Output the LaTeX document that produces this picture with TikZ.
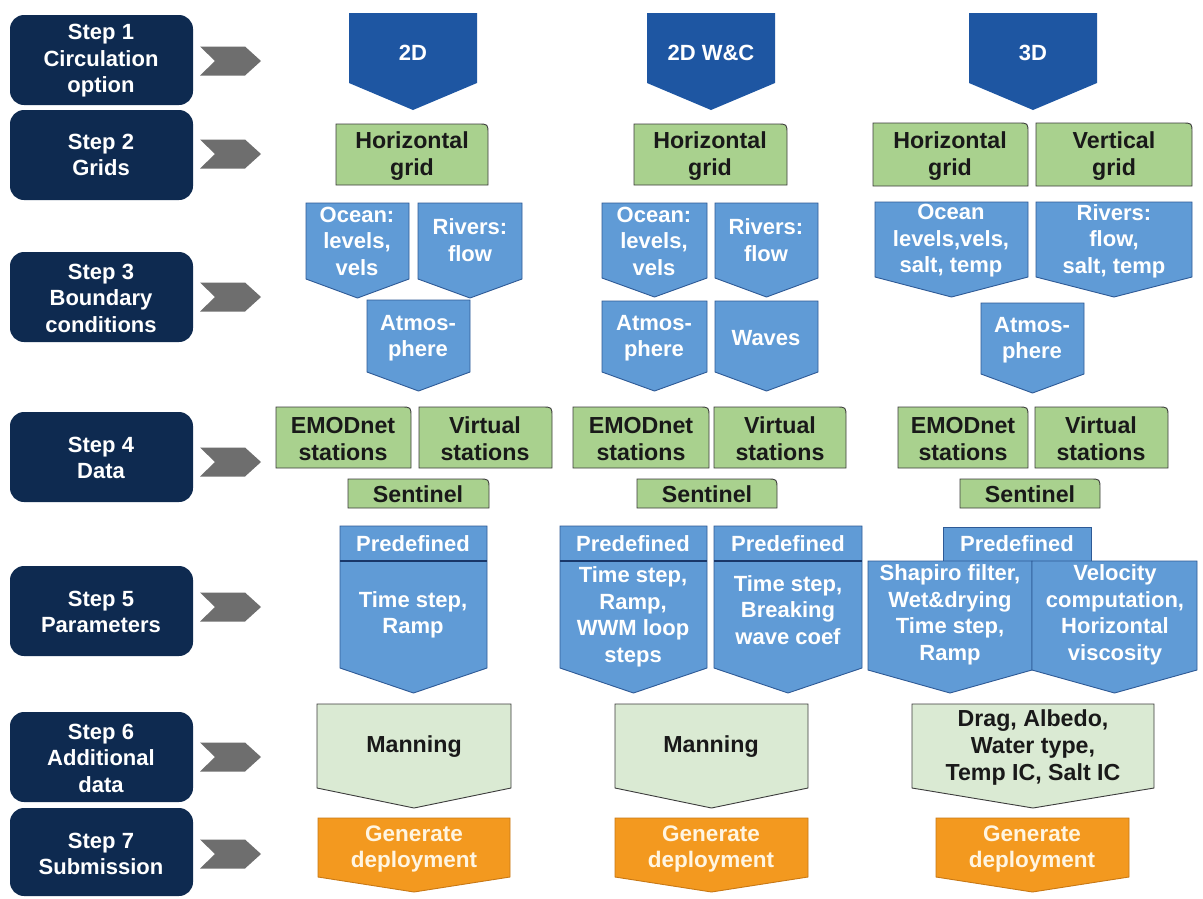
\documentclass[tikz,border=0pt]{standalone}
\usepackage{fontspec}
\setmainfont{Liberation Sans}
\definecolor{navy}{RGB}{14,42,80}
\definecolor{chevgray}{RGB}{110,110,110}
\definecolor{topblue}{RGB}{30,86,162}
\definecolor{gridgreen}{RGB}{169,209,142}
\definecolor{darkline}{RGB}{60,60,60}
\definecolor{lblue}{RGB}{96,155,214}
\definecolor{lblueline}{RGB}{46,90,150}
\definecolor{divline}{RGB}{25,55,105}
\definecolor{palegreen}{RGB}{218,234,211}
\definecolor{orangefill}{RGB}{243,153,31}
\definecolor{orangeline}{RGB}{200,120,20}
\definecolor{textdark}{RGB}{25,25,25}
\definecolor{cream}{RGB}{255,245,225}
\tikzset{
  stepbox/.style={fill=navy, rounded corners=14pt},
  chevfill/.style={fill=chevgray},
  topshape/.style={fill=topblue},
  gridbox/.style={fill=gridgreen, draw=darkline, line width=0.9pt},
  bcshape/.style={fill=lblue, draw=lblueline, line width=0.9pt},
  addshape/.style={fill=palegreen, draw=darkline, line width=0.9pt},
  genshape/.style={fill=orangefill, draw=orangeline, line width=0.9pt},
  lbl/.style={align=center, inner sep=0pt, font=\bfseries\fontsize{22}{26.5}\selectfont},
  wlbl/.style={lbl, text=white},
  dlbl/.style={lbl, text=textdark, font=\bfseries\fontsize{23.2}{27}\selectfont},
  olbl/.style={lbl, text=cream, font=\bfseries\fontsize{22.5}{26.5}\selectfont}
}
% pentagon pointing down: x1, x2, ytop, ybottom of rect, ypoint, style
\newcommand\pentshape[6]{\path[#6] (#1,#3) -- (#2,#3) -- (#2,#4) -- ({(#1+#2)/2},#5) -- (#1,#4) -- cycle;}
% box with rounded top-right corner: x1, x2, ytop, ybottom, style
\newcommand\tabshape[5]{\path[#5] (#1,#4) -- (#1,#3) -- ({#2-10},#3) .. controls (#2,#3) .. (#2,{#3+10}) -- (#2,#4) -- cycle;}
% chevron centred at y
\newcommand\chevshape[1]{\path[chevfill] (200,{#1-14.5}) -- (245,{#1-14.5}) -- (261,#1) -- (245,{#1+14.5}) -- (200,{#1+14.5}) -- (215,#1) -- cycle;}
\begin{document}
\begin{tikzpicture}[x=1pt, y=-1pt]
\useasboundingbox (0,0) rectangle (1203,898);
\fill[white] (0,0) rectangle (1203,898);

% ---------- step boxes ----------
\path[stepbox] (10,15) rectangle (193,105);
\path[stepbox] (10,110) rectangle (193,200);
\path[stepbox] (10,252) rectangle (193,342);
\path[stepbox] (10,412) rectangle (193,502);
\path[stepbox] (10,566) rectangle (193,656);
\path[stepbox] (10,712) rectangle (193,802);
\path[stepbox] (10,808) rectangle (193,896);
\node[wlbl] (s1) at (101,61) {Step 1\\Circulation\\option};
\node[wlbl] (s2) at (101,155) {Step 2\\Grids};
\node[wlbl] (s3) at (101,298) {Step 3\\Boundary\\conditions};
\node[wlbl] (s4) at (101,458) {Step 4\\Data};
\node[wlbl] (s5) at (101,612) {Step 5\\Parameters};
\node[wlbl] (s6) at (101,758) {Step 6\\Additional\\data};
\node[wlbl] (s7) at (101,854) {Step 7\\Submission};

\chevshape{61}
\chevshape{154}
\chevshape{297}
\chevshape{462}
\chevshape{607}
\chevshape{757}
\chevshape{854}

% ---------- step 1 ----------
\pentshape{349}{477}{13}{83}{110}{topshape}
\pentshape{647}{775}{13}{83}{110}{topshape}
\pentshape{969}{1097}{13}{83}{110}{topshape}
\node[wlbl] (c2d) at (413,53) {2D};
\node[wlbl] (cwc) at (711,53) {2D W\&C};
\node[wlbl] (c3d) at (1033,53) {3D};

% ---------- step 2 ----------
\tabshape{336}{488}{124}{185}{gridbox}
\tabshape{634}{787}{124}{185}{gridbox}
\tabshape{873}{1028}{123}{186}{gridbox}
\tabshape{1036}{1192}{123}{186}{gridbox}
\node[dlbl] (g2d) at (412,156) {Horizontal\\grid};
\node[dlbl] (gwc) at (710,156) {Horizontal\\grid};
\node[dlbl] (g3dh) at (950,156) {Horizontal\\grid};
\node[dlbl] (g3dv) at (1114,156) {Vertical\\grid};

% ---------- step 3 ----------
\pentshape{306}{409}{203}{279}{298}{bcshape}
\pentshape{418}{522}{203}{279}{298}{bcshape}
\pentshape{367}{470}{300}{372}{391}{bcshape}
\node[wlbl] (o2d) at (357,241) {Ocean:\\levels,\\vels};
\node[wlbl] (r2d) at (470,240) {Rivers:\\flow};
\node[wlbl] (a2d) at (418,338) {Atmos-\\phere};

\pentshape{602}{707}{203}{278}{297}{bcshape}
\pentshape{715}{818}{203}{278}{297}{bcshape}
\pentshape{602}{707}{301}{372}{391}{bcshape}
\pentshape{715}{818}{301}{372}{391}{bcshape}
\node[wlbl] (owc) at (654,241) {Ocean:\\levels,\\vels};
\node[wlbl] (rwc) at (766,240) {Rivers:\\flow};
\node[wlbl] (awc) at (654,338) {Atmos-\\phere};
\node[wlbl] (wwc) at (766,338) {Waves};

\pentshape{875}{1028}{202}{277}{297}{bcshape}
\pentshape{1036}{1192}{202}{277}{297}{bcshape}
\pentshape{981}{1084}{303}{374}{393}{bcshape}
\node[wlbl] (o3d) at (951,241) {Ocean\\levels,vels,\\salt, temp};
\node[wlbl] (r3d) at (1114,241) {Rivers:\\flow,\\salt, temp};
\node[wlbl] (a3d) at (1032,340) {Atmos-\\phere};

% ---------- step 4 ----------
\tabshape{276}{411}{407}{468}{gridbox}
\tabshape{419}{552}{407}{468}{gridbox}
\tabshape{348}{489}{479}{508}{gridbox}
\node[dlbl] (e2d) at (343,439) {EMODnet\\stations};
\node[dlbl] (v2d) at (485,439) {Virtual\\stations};
\node[dlbl] (sn2d) at (418,494) {Sentinel};

\tabshape{573}{709}{407}{468}{gridbox}
\tabshape{714}{846}{407}{468}{gridbox}
\tabshape{637}{777}{479}{508}{gridbox}
\node[dlbl] (ewc) at (641,439) {EMODnet\\stations};
\node[dlbl] (vwc) at (780,439) {Virtual\\stations};
\node[dlbl] (snwc) at (707,494) {Sentinel};

\tabshape{898}{1028}{407}{468}{gridbox}
\tabshape{1035}{1168}{407}{468}{gridbox}
\tabshape{960}{1100}{479}{508}{gridbox}
\node[dlbl] (e3d) at (963,439) {EMODnet\\stations};
\node[dlbl] (v3d) at (1101,439) {Virtual\\stations};
\node[dlbl] (sn3d) at (1030,494) {Sentinel};

% ---------- step 5 ----------
\pentshape{340}{487}{526}{668}{693}{bcshape}
\draw[divline, line width=1.5pt] (340,561) -- (487,561);
\node[wlbl] (p2d) at (413,544) {Predefined};
\node[wlbl] (t2d) at (413,615) {Time step,\\Ramp};

\pentshape{560}{707}{526}{668}{693}{bcshape}
\pentshape{714}{862}{526}{668}{693}{bcshape}
\draw[divline, line width=1.5pt] (560,561) -- (707,561);
\draw[divline, line width=1.5pt] (714,561) -- (862,561);
\node[wlbl] (pwc1) at (633,544) {Predefined};
\node[wlbl] (pwc2) at (788,544) {Predefined};
\node[wlbl] (twc1) at (633,617) {Time step,\\Ramp,\\WWM loop\\steps};
\node[wlbl] (twc2) at (788,610) {Time step,\\Breaking\\wave coef};

\path[bcshape] (943,527) rectangle (1091,561);
\pentshape{868}{1032}{561}{670}{693}{bcshape}
\pentshape{1032}{1197}{561}{670}{693}{bcshape}
\node[wlbl] (p3d) at (1017,544) {Predefined};
\node[wlbl] (t3d1) at (950,615) {Shapiro filter,\\Wet\&drying\\Time step,\\Ramp};
\node[wlbl] (t3d2) at (1115,615) {Velocity\\computation,\\Horizontal\\viscosity};

% ---------- step 6 ----------
\pentshape{317}{511}{704}{788}{808}{addshape}
\pentshape{615}{808}{704}{788}{808}{addshape}
\pentshape{912}{1154}{704}{788}{808}{addshape}
\node[dlbl] (m2d) at (414,747) {Manning};
\node[dlbl] (mwc) at (711,747) {Manning};
\node[dlbl] (m3d) at (1033,747) {Drag, Albedo,\\Water type,\\Temp IC, Salt IC};

% ---------- step 7 ----------
\pentshape{318}{510}{818}{877}{892}{genshape}
\pentshape{615}{808}{818}{877}{892}{genshape}
\pentshape{936}{1129}{818}{877}{892}{genshape}
\node[olbl] (d2d) at (414,849) {Generate\\deployment};
\node[olbl] (dwc) at (711,849) {Generate\\deployment};
\node[olbl] (d3d) at (1032,849) {Generate\\deployment};
\end{tikzpicture}
\end{document}
